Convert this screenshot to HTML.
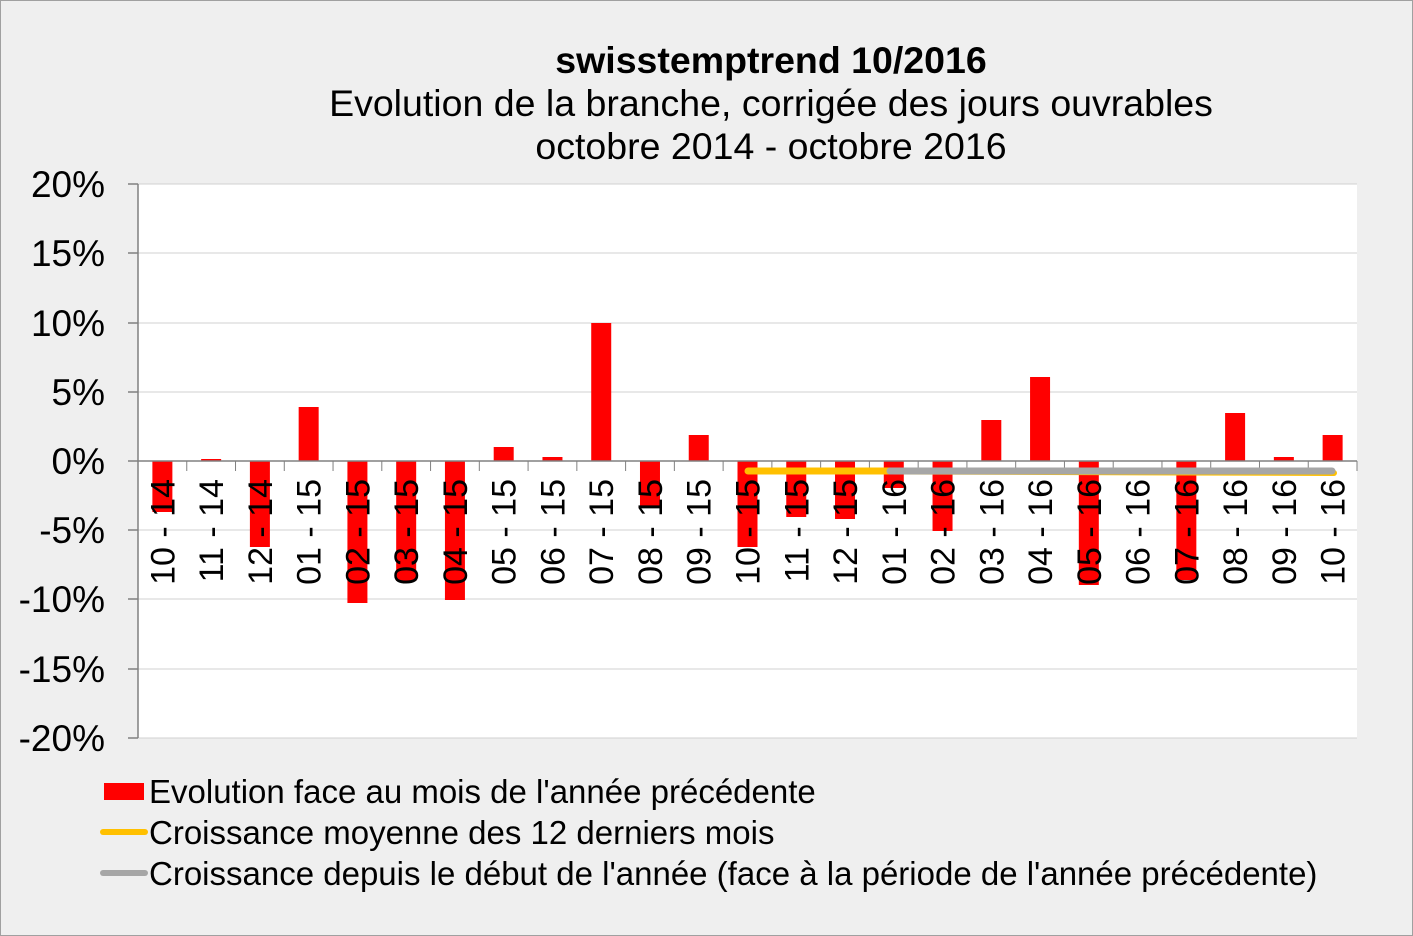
<!DOCTYPE html>
<html><head><meta charset="utf-8"><style>
body{margin:0;background:#eeeeee}
svg{display:block;font-family:"Liberation Sans",Arial,sans-serif}
</style></head><body>
<svg width="1413" height="936" viewBox="0 0 1413 936">
<rect x="0.5" y="0.5" width="1412" height="935" fill="#efefef" stroke="#a0a0a0"/>
<rect x="138" y="184" width="1219" height="554" fill="#fff"/>
<g stroke="#d0d0d0" stroke-width="1">
<line x1="138" y1="184" x2="1357" y2="184"/><line x1="138" y1="253" x2="1357" y2="253"/>
<line x1="138" y1="323" x2="1357" y2="323"/><line x1="138" y1="392" x2="1357" y2="392"/>
<line x1="138" y1="530" x2="1357" y2="530"/><line x1="138" y1="599" x2="1357" y2="599"/>
<line x1="138" y1="669" x2="1357" y2="669"/><line x1="138" y1="738" x2="1357" y2="738"/>
</g>
<g stroke="#808080" stroke-width="1.5">
<line x1="138" y1="184" x2="138" y2="738"/>
<line x1="128" y1="184" x2="138" y2="184"/><line x1="128" y1="253" x2="138" y2="253"/>
<line x1="128" y1="323" x2="138" y2="323"/><line x1="128" y1="392" x2="138" y2="392"/>
<line x1="128" y1="461" x2="138" y2="461"/><line x1="128" y1="530" x2="138" y2="530"/>
<line x1="128" y1="599" x2="138" y2="599"/><line x1="128" y1="669" x2="138" y2="669"/>
<line x1="128" y1="738" x2="138" y2="738"/>
</g>
<g font-size="37" text-anchor="end" fill="#000">
<text x="105" y="197">20%</text><text x="105" y="266">15%</text><text x="105" y="336">10%</text>
<text x="105" y="405">5%</text><text x="105" y="474">0%</text><text x="105" y="543">-5%</text>
<text x="105" y="612">-10%</text><text x="105" y="682">-15%</text><text x="105" y="751">-20%</text>
</g>
<g fill="#ff0000" id="bars"></g>
<line x1="138" y1="461" x2="1357" y2="461" stroke="#808080" stroke-width="1.5"/>
<g id="ticks" stroke="#808080" stroke-width="1"></g>
<line x1="748" y1="471" x2="1334" y2="473" stroke="#ffc000" stroke-width="6" stroke-linecap="round"/>
<line x1="748" y1="471" x2="890" y2="471" stroke="#ffc000" stroke-width="7" stroke-linecap="round"/>
<line x1="890" y1="471" x2="1332" y2="471" stroke="#a6a6a6" stroke-width="7" stroke-linecap="round"/>
<g id="labels" font-size="34" fill="#000" text-anchor="end"></g>
<g text-anchor="middle" fill="#000">
<text x="771" y="73" font-size="37.5" font-weight="bold">swisstemptrend 10/2016</text>
<text x="771" y="116" font-size="37.5">Evolution de la branche, corrigée des jours ouvrables</text>
<text x="771" y="159" font-size="37.5">octobre 2014 - octobre 2016</text>
</g>
<rect x="104" y="783" width="40" height="17" fill="#ff0000"/>
<line x1="103" y1="832" x2="145" y2="832" stroke="#ffc000" stroke-width="6" stroke-linecap="round"/>
<line x1="103" y1="873" x2="145" y2="873" stroke="#a6a6a6" stroke-width="6" stroke-linecap="round"/>
<g font-size="33" fill="#000">
<text x="149" y="803">Evolution face au mois de l'année précédente</text>
<text x="149" y="844">Croissance moyenne des 12 derniers mois</text>
<text x="149" y="885">Croissance depuis le début de l'année (face à la période de l'année précédente)</text>
</g>
<script>
var ends=[512,459,547,407,603,581,600,447,457,323,507,435,547,517,519,488,531,420,377,585,461,580,413,457,435];
var labs=["10 - 14","11 - 14","12 - 14","01 - 15","02 - 15","03 - 15","04 - 15","05 - 15","06 - 15","07 - 15","08 - 15","09 - 15","10 - 15","11 - 15","12 - 15","01 - 16","02 - 16","03 - 16","04 - 16","05 - 16","06 - 16","07 - 16","08 - 16","09 - 16","10 - 16"];
var ns="http://www.w3.org/2000/svg",b=document.getElementById("bars"),t=document.getElementById("ticks"),l=document.getElementById("labels");
var w=1219/25;
for(var i=0;i<25;i++){var c=138+w*(i+0.5);
var y0=Math.min(461,ends[i]),h=Math.abs(ends[i]-461);
if(h>0){var r=document.createElementNS(ns,"rect");r.setAttribute("x",c-10);r.setAttribute("y",y0);r.setAttribute("width",20);r.setAttribute("height",h);b.appendChild(r);}
var k=document.createElementNS(ns,"line");var tx=138+w*(i+1);k.setAttribute("x1",tx);k.setAttribute("x2",tx);k.setAttribute("y1",461);k.setAttribute("y2",471);t.appendChild(k);
var s=document.createElementNS(ns,"text");s.setAttribute("transform","translate("+(c+12)+",479) rotate(-90)");s.textContent=labs[i];l.appendChild(s);}
</script>
</svg>
</body></html>
